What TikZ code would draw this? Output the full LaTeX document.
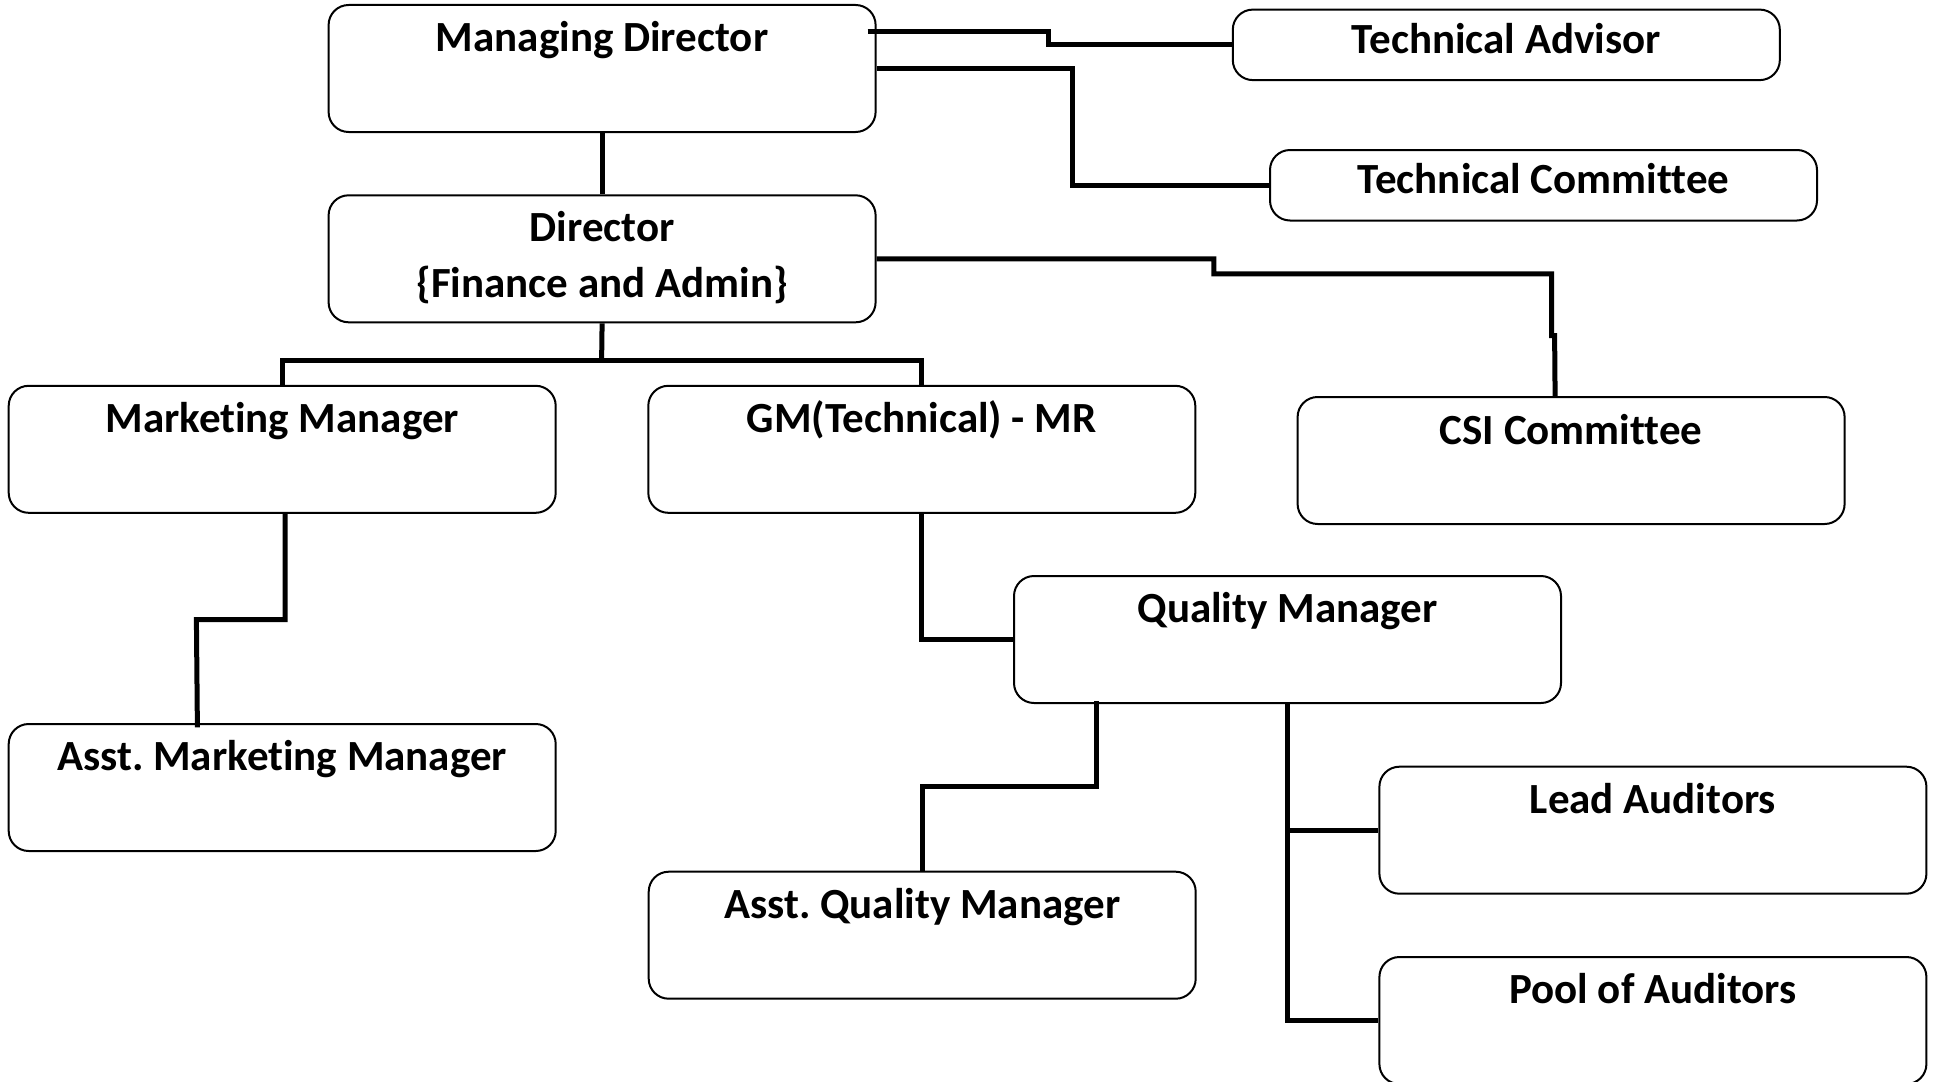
\documentclass[tikz,border=0pt]{standalone}
\usepackage{fontspec}
\setmainfont[Ligatures=NoCommon]{Carlito}
\usetikzlibrary{calc}
\frenchspacing
\begin{document}
\begin{tikzpicture}[x=1pt,y=-1pt,
  box/.style={draw, line width=2pt, rounded corners=20pt, minimum width=547pt, minimum height=127pt, anchor=north west, inner sep=0pt},
  sbox/.style={box, minimum height=70.5pt},
  txt/.style={anchor=base, inner sep=0pt, font=\bfseries\fontsize{43}{57}\selectfont},
  conn/.style={line width=5pt}]
\useasboundingbox (0,0) rectangle (1937,1081);
% boxes
\node[box] (md) at (327.6,4) {};
\node[box] (dir) at (327.6,194.3) {};
\node[sbox] (ta) at (1231.8,8.6) {};
\node[sbox] (tc) at (1269,149) {};
\node[box] (mm) at (7.7,384.8) {};
\node[box] (gm) at (647.3,384.8) {};
\node[box] (csi) at (1296.6,396) {};
\node[box] (qm) at (1013,575) {};
\node[box] (amm) at (7.7,723) {};
\node[box] (aqm) at (647.7,870.7) {};
\node[box] (la) at (1378.4,765.7) {};
\node[box] (pa) at (1378.4,956) {};
% texts
\node[txt] at ($(md.north)+(0,47.5)$) {Managing Director};
\node[txt] at ($(dir.north)+(0,47.4)$) {Director};
\node[txt] at ($(dir.north)+(0,103.5)$) {\{Finance and Admin\}};
\node[txt] at ($(ta.north)+(0,45)$) {Technical Advisor};
\node[txt] at ($(tc.north)+(0,44.5)$) {Technical Committee};
\node[txt] at ($(mm.north)+(0,47.5)$) {Marketing Manager};
\node[txt] at ($(gm.north)+(0,47.5)$) {GM(Technical) - MR};
\node[txt] at ($(csi.north)+(0,48)$) {CSI Committee};
\node[txt] at ($(qm.north)+(0,47.7)$) {Quality Manager};
\node[txt] at ($(amm.north)+(0,47.4)$) {Asst. Marketing Manager};
\node[txt] at ($(aqm.north)+(0,47.6)$) {Asst. Quality Manager};
\node[txt] at ($(la.north)+(0,47.6)$) {Lead Auditors};
\node[txt] at ($(pa.north)+(0,47.3)$) {Pool of Auditors};
% connectors
\coordinate (bar) at (601.6,360.7);
\draw[conn] ($(md.north east)+(-9,27.7)$) -| ($(ta.west)+(-183,0)$) -- (ta.west);
\draw[conn] (md.east) -| ($(tc.west)+(-197,0)$) -- (tc.west);
\draw[conn] (dir.east) -| (1213.8,273.8) -| (1551.6,335.7) -- (1554.6,335.7) -- ($(csi.north)+(-16,0)$);
\draw[conn] (md.south) -- (dir.north);
\draw[conn] (dir.south) -- (bar);
\draw[conn] (mm.north) |- (bar) -| (gm.north);
\draw[conn] ($(mm.south)+(3,0)$) |- (196.4,619.6) -- ($(amm.north)+(-84.8,4.4)$);
\draw[conn] (gm.south) |- (qm.west);
\draw[conn] ($(qm.south west)+(83,-3)$) |- ($(aqm.north)+(0,-84)$) -- (aqm.north);
\draw[conn] (qm.south) |- (pa.west);
\draw[conn] (qm.south |- la.west) -- (la.west);
\end{tikzpicture}
\end{document}
